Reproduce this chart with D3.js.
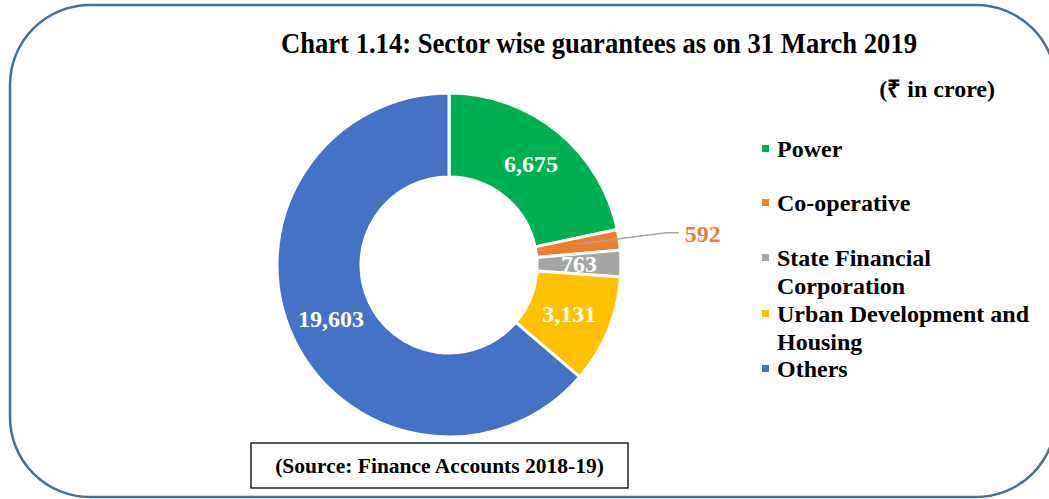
<!DOCTYPE html>
<html><head><meta charset="utf-8">
<script src="https://cdn.jsdelivr.net/npm/d3@7"></script>
<style>
html,body{margin:0;padding:0;background:#fff;}
svg{display:block;}
text{font-family:"Liberation Serif","Times New Roman",serif;font-weight:bold;}
</style></head>
<body>
<svg id="c" width="1049" height="499"></svg>
<script>
const categories = ["Power","Co-operative","State Financial Corporation","Urban Development and Housing","Others"];
const values = [6675, 592, 763, 3131, 19603];
const legendLines = [["Power"],["Co-operative"],["State Financial","Corporation"],["Urban Development and","Housing"],["Others"]];
const colors = ["#00B050","#ED7D31","#A5A5A5","#FFC000","#4472C4"];
const titleText = "Chart 1.14: Sector wise guarantees as on 31 March 2019";
const unitText = "(\u20B9 in crore)";
const sourceText = "(Source: Finance Accounts 2018-19)";

const svg = d3.select("#c");
// rounded frame
svg.append("rect").attr("x",10).attr("y",5).attr("width",1046).attr("height",492)
  .attr("rx",80).attr("ry",80).attr("fill","none").attr("stroke","#41719C").attr("stroke-width",2.5);

svg.append("text").attr("x",599).attr("y",53).attr("text-anchor","middle")
  .attr("font-size",30).attr("textLength",636).attr("lengthAdjust","spacingAndGlyphs")
  .attr("fill","#000").text(titleText);

svg.append("text").attr("x",995).attr("y",97).attr("text-anchor","end")
  .attr("font-size",24).attr("fill","#000").text(unitText);

const cx = 449, cy = 265, rOut = 172, rIn = 88;
const g = svg.append("g").attr("transform",`translate(${cx},${cy})`);
const pie = d3.pie().sort(null).value(d=>d.v);
const data = pie(categories.map((c,i)=>({c, v:values[i], i})));
const arc = d3.arc().innerRadius(rIn).outerRadius(rOut);
const labelArc = d3.arc().innerRadius((rIn+rOut)/2).outerRadius((rIn+rOut)/2);
g.selectAll("path.s").data(data).join("path").attr("class","s")
  .attr("d",arc).attr("fill",d=>colors[d.data.i]).attr("stroke","#fff").attr("stroke-width",3);

const fmt = d3.format(",");
data.forEach(d=>{
  const [x,y] = labelArc.centroid(d);
  if (d.data.i === 1) {
    const mid = (d.startAngle+d.endAngle)/2;
    const ex = 220*Math.sin(mid), ey = -220*Math.cos(mid);
    g.append("polyline").attr("points",`${x},${y-2} ${ex},${ey} ${ex+12},${ey}`)
      .attr("fill","none").attr("stroke","#A5A5A5").attr("stroke-width",1.5);
    g.append("text").attr("x",ex+18).attr("y",ey+9).attr("font-size",24)
      .attr("fill",colors[1]).text(fmt(d.data.v));
  } else {
    g.append("text").attr("x",x).attr("y",y+8).attr("text-anchor","middle")
      .attr("font-size",24).attr("fill","#fff").text(fmt(d.data.v));
  }
});

// legend
const legendY = [157, 211, 266, 322, 377];
const lg = svg.append("g");
legendLines.forEach((lines,i)=>{
  lg.append("rect").attr("x",762).attr("y",legendY[i]-12).attr("width",7).attr("height",7).attr("fill",colors[i]);
  lines.forEach((t,j)=>{
    lg.append("text").attr("x",777).attr("y",legendY[i]+j*28).attr("font-size",24).attr("fill","#000").text(t);
  });
});

// source box
svg.append("rect").attr("x",251).attr("y",443).attr("width",377).attr("height",45)
  .attr("fill","#fff").attr("stroke","#000").attr("stroke-width",1.3);
svg.append("text").attr("x",439.5).attr("y",473).attr("text-anchor","middle")
  .attr("font-size",21.5).attr("fill","#000").text(sourceText);
</script>
</body></html>
